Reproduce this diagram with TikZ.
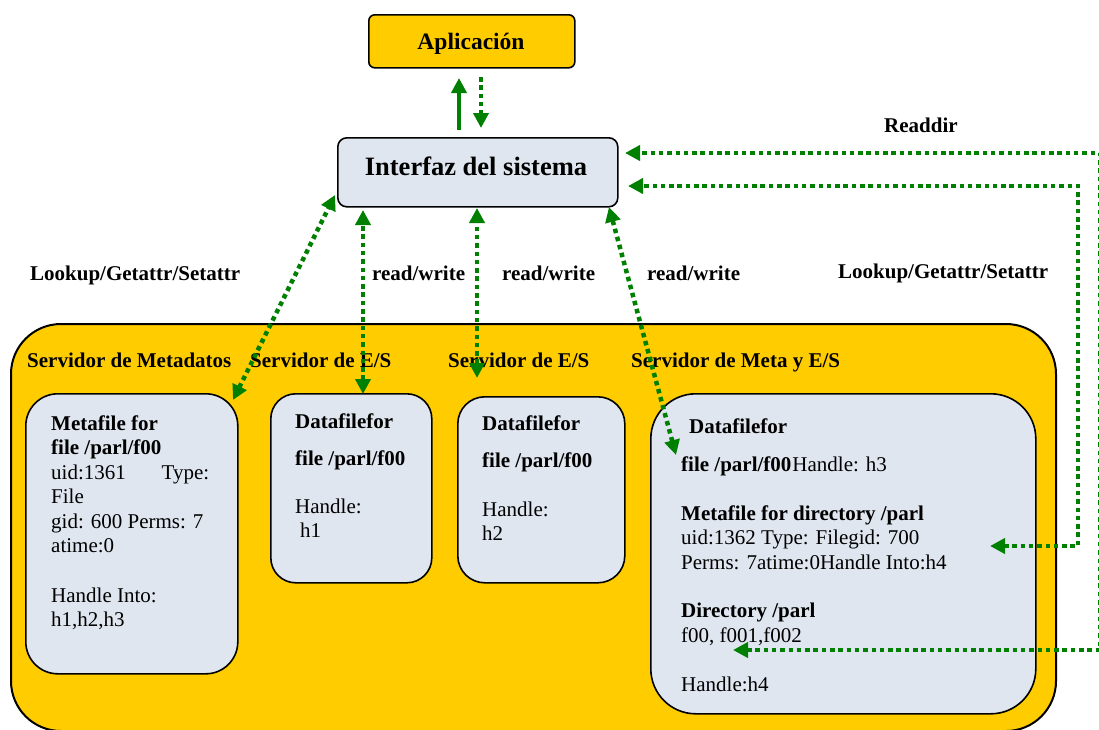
\documentclass[tikz,border=0pt]{standalone}
\usepackage{fontspec}
\setmainfont{Liberation Serif}
\usetikzlibrary{arrows.meta}

\definecolor{gold}{RGB}{255,204,0}
\definecolor{boxfill}{RGB}{224,230,239}
\definecolor{flow}{RGB}{0,128,0}

\tikzset{
  panel/.style={draw=black, line width=1.6pt, fill=boxfill, anchor=north west, inner sep=0pt},
  hd/.style={font=\fontsize{21}{24}\selectfont\bfseries, anchor=base west, inner sep=0pt},
  tx/.style={font=\fontsize{21}{24}\selectfont, anchor=base west, inner sep=0pt},
  tipshape/.tip={Triangle[length=15pt,width=15pt]},
  conn/.style={draw=flow, line width=4.5pt, dash pattern=on 4.5pt off 3.8pt},
  solidconn/.style={draw=flow, line width=4pt},
}

\begin{document}
\begin{tikzpicture}[x=1pt,y=-1pt]
\useasboundingbox (0,0) rectangle (1099,729);

% top: application and system interface
\node[panel, fill=gold, rounded corners=6pt, minimum width=206pt, minimum height=53pt] (app) at (368,14) {};
\node[font=\fontsize{23.5}{26}\selectfont\bfseries, anchor=base, inner sep=0pt] (apptxt) at (471,49) {Aplicación};
\node[panel, rounded corners=9pt, minimum width=280pt, minimum height=69pt] (iface) at (337,137) {};
\node[font=\fontsize{26.5}{30}\selectfont\bfseries, anchor=base, inner sep=0pt] (ifacetxt) at (476,175) {Interfaz del sistema};

% server area
\node[draw=black, line width=2pt, fill=gold, rounded corners=50pt, anchor=north west,
      minimum width=1045pt, minimum height=407pt, inner sep=0pt] (srv) at (10,323) {};

\node[hd] (s1) at (27,367) {Servidor de Metadatos};
\node[hd] (s2) at (250,367) {Servidor de E/S};
\node[hd] (s3) at (448,367) {Servidor de E/S};
\node[hd] (s4) at (631,367) {Servidor de Meta y E/S};

% per-server boxes
\node[panel, rounded corners=32pt, minimum width=212pt, minimum height=280pt] (meta) at (25,393) {};
\node[panel, rounded corners=25pt, minimum width=161pt, minimum height=189pt] (data1) at (270,393) {};
\node[panel, rounded corners=27pt, minimum width=167pt, minimum height=186pt] (data2) at (457,396) {};
\node[panel, rounded corners=45pt, minimum width=385pt, minimum height=320pt] (mixed) at (650,393) {};

% metadata server contents
\node[hd] (m1) at (51,430) {Metafile for};
\node[hd] (m2) at (51,454) {file /parl/f00};
\node[tx] (m3) at (51,479) {\makebox[158pt][s]{uid:1361\hfill Type:}};
\node[tx] (m4) at (51,503) {File};
\node[tx] (m5) at (51,528) {gid: 600 Perms: 7};
\node[tx] (m6) at (51,552) {atime:0};
\node[tx] (m7) at (51,602) {Handle Into:};
\node[tx] (m8) at (51,626) {h1,h2,h3};

% first I/O server contents
\node[hd] (d1a) at (295,428) {Datafilefor};
\node[hd] (d1b) at (295,465) {file /parl/f00};
\node[tx] (d1c) at (295,513) {Handle:};
\node[tx] (d1d) at (300,537) {h1};

% second I/O server contents
\node[hd] (d2a) at (482,430) {Datafilefor};
\node[hd] (d2b) at (482,467) {file /parl/f00};
\node[tx] (d2c) at (482,516) {Handle:};
\node[tx] (d2d) at (482,540) {h2};

% combined server contents
\node[hd] (x1) at (689,433) {Datafilefor};
\node[tx] (x2) at (681,471) {\textbf{file /parl/f00}\kern1pt Handle: h3};
\node[hd] (x3) at (681,520) {Metafile for directory /parl};
\node[tx] (x4) at (681,544) {uid:1362 Type: Filegid: 700};
\node[tx] (x5) at (681,569) {Perms: 7atime:0Handle Into:h4};
\node[hd] (x6) at (681,617) {Directory /parl};
\node[tx] (x7) at (681,642) {f00, f001,f002};
\node[tx] (x8) at (681,691) {Handle:h4};

% operation labels
\node[hd] (lk1) at (30,280) {Lookup/Getattr/Setattr};
\node[hd] (rw1) at (372,280) {read/write};
\node[hd] (rw2) at (502,280) {read/write};
\node[hd] (rw3) at (647,280) {read/write};
\node[hd] (lk2) at (838,278) {Lookup/Getattr/Setattr};
\node[hd] (rd) at (884,132) {Readdir};

% connector end points
\coordinate (upS) at (459,130);   \coordinate (upE) at (459,78);
\coordinate (dnS) at (481,77);    \coordinate (dnE) at (481,128);
\coordinate (lkA) at (233,400);   \coordinate (lkB) at (335,195);
\coordinate (io1A) at (363,394);  \coordinate (io1B) at (363,210);
\coordinate (io2A) at (477,378);  \coordinate (io2B) at (477,208);
\coordinate (io3A) at (676,455);  \coordinate (io3B) at (609,207);
\coordinate (rdA) at (733,650);   \coordinate (rdC1) at (1100,650);
\coordinate (rdC2) at (1100,153); \coordinate (rdB) at (625,153);
\coordinate (lmA) at (990,546);   \coordinate (lmC1) at (1078,546);
\coordinate (lmC2) at (1078,186); \coordinate (lmB) at (628,186);

% application <-> interface
\draw[solidconn, -tipshape] (upS) -- (upE);
\draw[conn, -tipshape] (dnS) -- (dnE);

% interface <-> servers
\draw[conn, tipshape-tipshape] (lkA) -- (lkB);
\draw[conn, tipshape-tipshape] (io1A) -- (io1B);
\draw[conn, tipshape-tipshape] (io2A) -- (io2B);
\draw[conn, tipshape-tipshape] (io3A) -- (io3B);

% directory operations routed along the right edge
\draw[conn, tipshape-tipshape] (rdA) -- (rdC1) -- (rdC2) -- (rdB);
\draw[conn, tipshape-tipshape] (lmA) -- (lmC1) -- (lmC2) -- (lmB);
\end{tikzpicture}
\end{document}
